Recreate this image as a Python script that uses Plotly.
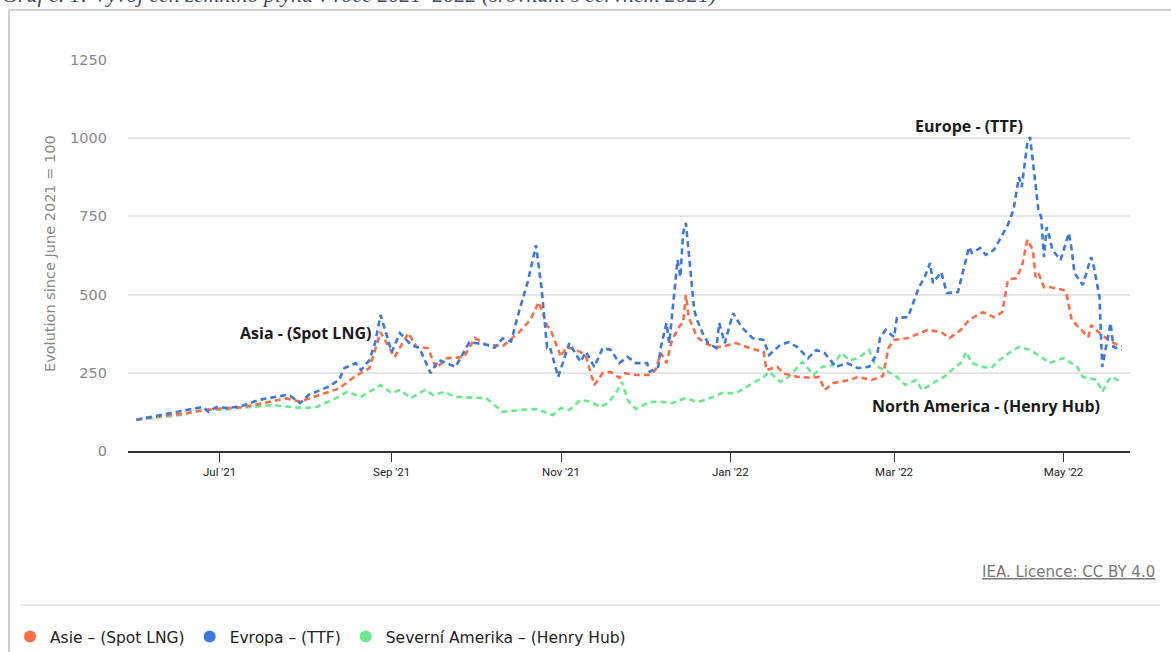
import plotly.graph_objects as go

# ---------------- data ----------------
europe_dates = ["2021-06-01","2021-06-10","2021-06-25","2021-06-27","2021-06-30","2021-07-04","2021-07-09","2021-07-15",
    "2021-07-25","2021-07-27","2021-07-30","2021-08-02","2021-08-09","2021-08-13","2021-08-15","2021-08-19","2021-08-21",
    "2021-08-24","2021-08-26","2021-08-28","2021-09-01","2021-09-04","2021-09-08","2021-09-11","2021-09-15","2021-09-18",
    "2021-09-24","2021-09-29","2021-10-05","2021-10-08","2021-10-11","2021-10-14","2021-10-17","2021-10-20","2021-10-23",
    "2021-10-25","2021-10-27","2021-10-28","2021-10-31","2021-11-04","2021-11-08","2021-11-10","2021-11-13","2021-11-16",
    "2021-11-19","2021-11-22","2021-11-25","2021-11-28","2021-12-02","2021-12-03","2021-12-06","2021-12-07","2021-12-09",
    "2021-12-10","2021-12-13","2021-12-14","2021-12-15","2021-12-16","2021-12-17","2021-12-19","2021-12-20","2021-12-22",
    "2021-12-24","2021-12-27","2021-12-28","2021-12-30","2022-01-02","2022-01-05","2022-01-09","2022-01-13","2022-01-15",
    "2022-01-19","2022-01-22","2022-01-25","2022-01-29","2022-02-01","2022-02-04","2022-02-08","2022-02-12","2022-02-16",
    "2022-02-20","2022-02-23","2022-02-24","2022-02-26","2022-03-01","2022-03-02","2022-03-06","2022-03-08","2022-03-10",
    "2022-03-12","2022-03-14","2022-03-15","2022-03-18","2022-03-20","2022-03-24","2022-03-26","2022-03-28","2022-03-29",
    "2022-04-01","2022-04-03","2022-04-06","2022-04-08","2022-04-11","2022-04-13","2022-04-14","2022-04-15","2022-04-16",
    "2022-04-18","2022-04-19","2022-04-20","2022-04-22","2022-04-23","2022-04-24","2022-04-25","2022-04-26","2022-04-27",
    "2022-04-30","2022-05-03","2022-05-04","2022-05-05","2022-05-08","2022-05-11","2022-05-12","2022-05-14","2022-05-15",
    "2022-05-18","2022-05-19","2022-05-22"]
europe_values = [100,115,141,125,141,137,144,163,
    179,173,153,179,205,227,265,281,259,
    291,345,435,316,377,339,329,249,291,
    269,348,340,330,360,350,450,540,658,
    520,330,333,237,345,285,317,269,329,
    323,281,301,281,281,253,269,333,409,
    345,611,556,697,729,643,451,419,377,
    345,329,409,345,441,397,361,355,307,
    339,348,333,297,323,313,269,281,265,
    269,313,364,387,364,425,428,473,524,
    556,601,537,572,505,508,579,652,633,
    649,627,643,675,723,771,825,876,844,
    985,1004,921,771,748,620,716,684,643,
    611,697,643,569,531,620,588,492,269,
    409,333,323]

asia_dates = ["2021-06-01","2021-06-10","2021-06-17","2021-06-25","2021-06-30","2021-07-09","2021-07-15","2021-07-25",
    "2021-07-30","2021-08-05","2021-08-13","2021-08-19","2021-08-24","2021-08-28","2021-09-02","2021-09-07","2021-09-10",
    "2021-09-14","2021-09-17","2021-09-21","2021-09-27","2021-10-01","2021-10-05","2021-10-11","2021-10-17","2021-10-21",
    "2021-10-24","2021-10-27","2021-10-28","2021-11-01","2021-11-03","2021-11-08","2021-11-10","2021-11-13","2021-11-16",
    "2021-11-19","2021-11-22","2021-11-24","2021-11-28","2021-12-03","2021-12-05","2021-12-07","2021-12-09","2021-12-11",
    "2021-12-14","2021-12-15","2021-12-16","2021-12-17","2021-12-20","2021-12-23","2021-12-26","2021-12-29","2022-01-03",
    "2022-01-08","2022-01-13","2022-01-14","2022-01-18","2022-01-20","2022-01-25","2022-01-30","2022-02-02","2022-02-04",
    "2022-02-07","2022-02-13","2022-02-16","2022-02-21","2022-02-25","2022-02-27","2022-03-01","2022-03-06","2022-03-10",
    "2022-03-13","2022-03-18","2022-03-21","2022-03-25","2022-03-28","2022-04-02","2022-04-06","2022-04-09","2022-04-11",
    "2022-04-14","2022-04-16","2022-04-18","2022-04-20","2022-04-21","2022-04-22","2022-04-24","2022-04-26","2022-05-01",
    "2022-05-02","2022-05-04","2022-05-07","2022-05-10","2022-05-11","2022-05-14","2022-05-18","2022-05-22"]
asia_values = [100,112,118,130,135,140,150,168,
    158,175,200,240,265,380,300,377,333,
    329,265,297,300,361,340,335,380,420,
    476,400,393,301,333,317,301,211,249,
    253,234,249,243,243,259,313,281,355,
    403,409,499,428,364,345,333,333,345,
    329,317,259,269,249,237,234,237,195,
    217,227,237,227,240,330,355,361,377,
    387,380,361,387,419,444,428,444,547,
    553,588,675,643,556,569,524,524,515,
    508,419,393,364,403,377,350,333]

namerica_dates = ["2021-06-01","2021-06-10","2021-06-17","2021-06-25","2021-07-04","2021-07-08","2021-07-20","2021-07-31",
    "2021-08-05","2021-08-12","2021-08-16","2021-08-21","2021-08-25","2021-08-28","2021-09-01","2021-09-04","2021-09-08",
    "2021-09-13","2021-09-16","2021-09-20","2021-09-24","2021-10-05","2021-10-11","2021-10-17","2021-10-23","2021-10-29",
    "2021-11-01","2021-11-04","2021-11-08","2021-11-12","2021-11-15","2021-11-18","2021-11-21","2021-11-23","2021-11-25",
    "2021-11-28","2021-12-03","2021-12-07","2021-12-11","2021-12-16","2021-12-20","2021-12-23","2021-12-29","2022-01-03",
    "2022-01-08","2022-01-13","2022-01-15","2022-01-19","2022-01-22","2022-01-27","2022-01-31","2022-02-03","2022-02-07",
    "2022-02-10","2022-02-13","2022-02-16","2022-02-20","2022-02-22","2022-02-24","2022-02-27","2022-03-02","2022-03-05",
    "2022-03-09","2022-03-11","2022-03-15","2022-03-19","2022-03-21","2022-03-25","2022-03-27","2022-03-29","2022-04-02",
    "2022-04-05","2022-04-08","2022-04-12","2022-04-15","2022-04-19","2022-04-23","2022-04-26","2022-05-01","2022-05-06",
    "2022-05-08","2022-05-13","2022-05-15","2022-05-18","2022-05-22"]
namerica_values = [100,108,115,131,133,137,147,137,
    141,169,189,173,195,211,185,195,169,
    195,179,189,173,169,125,131,134,115,
    137,131,163,157,141,153,189,221,163,
    134,157,157,153,169,157,163,185,185,
    211,237,253,221,237,285,243,269,275,
    313,290,297,323,281,265,253,237,211,
    227,195,217,237,253,281,317,281,269,
    265,291,317,333,323,301,281,297,269,
    237,227,189,237,221]

series_names = ["Asie – (Spot LNG)", "Evropa – (TTF)", "Severní Amerika – (Henry Hub)"]
series_colors = ["#FA6D47", "#3D79DA", "#6BE98E"]
label_texts = ["Asia - (Spot LNG)", "Europe - (TTF)", "North America - (Henry Hub)"]
y_ticks = [0, 250, 500, 750, 1000, 1250]
x_ticks = ["2021-07-01", "2021-09-01", "2021-11-01", "2022-01-01", "2022-03-01", "2022-05-01"]
x_tick_labels = ["Jul '21", "Sep '21", "Nov '21", "Jan '22", "Mar '22", "May '22"]

# ---------------- figure ----------------
W, H = 1171, 652
ML, MR, MT, MB = 128, 41, 60, 201
PW, PH = W - ML - MR, H - MT - MB

def px(x):
    return (x - ML) / PW

def py(y):
    return (H - MB - y) / PH

SANS = "Open Sans, Inter, Roboto, sans-serif"
WIDE = "DejaVu Sans, Open Sans, sans-serif"
NARROW = "Roboto, Liberation Sans Narrow, sans-serif"

fig = go.Figure()
dash = "6px,4px"
for d, v, c, n in [(namerica_dates, namerica_values, series_colors[2], series_names[2]),
                   (asia_dates, asia_values, series_colors[0], series_names[0]),
                   (europe_dates, europe_values, series_colors[1], series_names[1])]:
    fig.add_trace(go.Scatter(x=d, y=v, mode="lines", name=n, showlegend=False,
                             line=dict(color=c, width=2.6, dash=dash), hoverinfo="x+y+name"))

for i, (n, c) in enumerate(zip(series_names, series_colors)):
    fig.add_trace(go.Scatter(x=[None], y=[None], mode="markers", name=n, legendrank=i + 1,
                             marker=dict(color=c, size=10, symbol="circle")))

fig.update_layout(
    width=W, height=H,
    margin=dict(l=ML, r=MR, t=MT, b=MB, autoexpand=False),
    paper_bgcolor="white", plot_bgcolor="white",
    font=dict(family=SANS, color="#333"),
    showlegend=True,
    legend=dict(orientation="h", x=px(10), y=py(637), xanchor="left", yanchor="middle",
                font=dict(size=15.5, color="#222", family=WIDE),
                itemsizing="constant", traceorder="normal", bgcolor="rgba(0,0,0,0)"),
    xaxis=dict(type="date", range=["2021-05-29", "2022-05-25"], tickvals=x_ticks, ticktext=x_tick_labels,
               showgrid=False, showline=True, linecolor="#333", linewidth=2, zeroline=False,
               ticks="outside", ticklen=9, tickcolor="#333", tickwidth=1,
               tickfont=dict(family=NARROW, size=11.5, color="#222")),
    yaxis=dict(range=[0, 1250], tickvals=y_ticks, showgrid=True, gridcolor="#e6e6e6", gridwidth=1.5,
               zeroline=False, showline=False, ticks="", ticklabelstandoff=20,
               tickfont=dict(family=WIDE, size=14.5, color="#888")),
)

annotations = [
    dict(x="2021-08-01", y=377, text="<b>" + label_texts[0] + "</b>", showarrow=False,
         font=dict(size=16, color="#1a1a1a", family=SANS)),
    dict(x="2022-03-28", y=1039, text="<b>" + label_texts[1] + "</b>", showarrow=False,
         font=dict(size=16, color="#1a1a1a", family=SANS)),
    dict(x="2022-04-03", y=144, text="<b>" + label_texts[2] + "</b>", showarrow=False,
         font=dict(size=16, color="#1a1a1a", family=SANS)),
    dict(xref="paper", yref="paper", x=px(50), y=py(254), xanchor="center", yanchor="middle",
         text="Evolution since June 2021 = 100",
         textangle=-90, showarrow=False, font=dict(size=14.5, color="#888", family=WIDE)),
    dict(xref="paper", yref="paper", x=px(1157), y=py(572), xanchor="right", yanchor="middle",
         text="<u>IEA. Licence: CC BY 4.0</u>", showarrow=False,
         font=dict(size=15, color="#777", family=WIDE)),
    dict(xref="paper", yref="paper", x=px(0), y=py(-6), xanchor="left", yanchor="middle",
         text="<i>Graf č. 1: Vývoj cen zemního plynu v roce 2021–2022 (srovnání s červnem 2021)</i>", showarrow=False,
         font=dict(size=22, color="#3b4a5e", family="Liberation Serif, DejaVu Serif, serif")),
]
fig.update_layout(annotations=annotations)

shapes = [
    dict(type="line", xref="paper", yref="paper", x0=px(9), x1=px(9), y0=py(10), y1=py(652), line=dict(color="#cfcfcf", width=2)),
    dict(type="line", xref="paper", yref="paper", x0=px(9), x1=px(1171), y0=py(10), y1=py(10), line=dict(color="#cfcfcf", width=2)),
    dict(type="line", xref="paper", yref="paper", x0=px(20), x1=px(1160), y0=py(605), y1=py(605), line=dict(color="#e8e8e8", width=2)),
]
fig.update_layout(shapes=shapes)

fig.write_html("out.html", config={"displayModeBar": False},
               post_script="document.body.style.margin='0px';document.body.style.overflow='hidden';")
